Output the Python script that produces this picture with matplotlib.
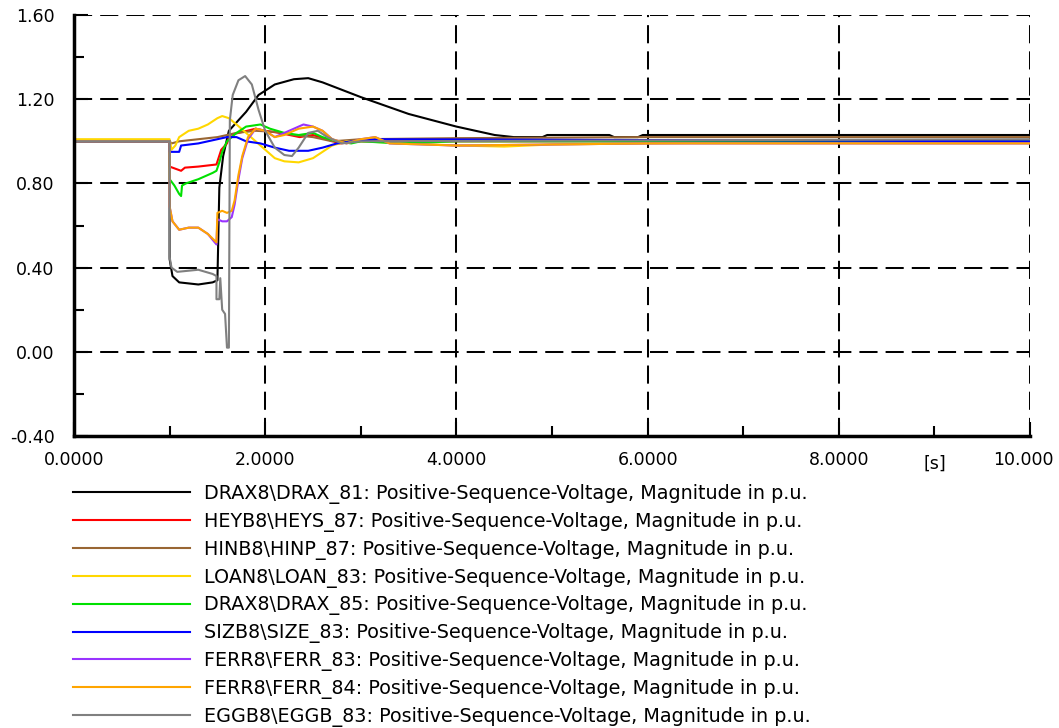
import numpy as np
import matplotlib
matplotlib.use("Agg")
import matplotlib.pyplot as plt
from matplotlib.transforms import ScaledTranslation

plt.rcParams['font.family'] = ['DejaVu Sans']

# time [s] / voltage [p.u.], one pair of lists per bus
t_drax81 = [0, 1.0, 1.0, 1.03, 1.1, 1.3, 1.45, 1.5, 1.52, 1.56, 1.62, 1.8, 1.93, 2.1, 2.3, 2.45,
            2.6, 3.0, 3.5, 4.0, 4.4, 4.6, 4.9, 4.95, 5.6, 5.65, 5.9, 5.95, 10]
v_drax81 = [1.0, 1.0, 0.44, 0.36, 0.33, 0.32, 0.33, 0.34, 0.78, 0.93, 1.05, 1.14, 1.22, 1.27, 1.295, 1.30,
            1.28, 1.21, 1.13, 1.07, 1.03, 1.02, 1.02, 1.03, 1.03, 1.02, 1.02, 1.03, 1.03]

t_heys87 = [0, 1.0, 1.0, 1.12, 1.16, 1.3, 1.49, 1.54, 1.6, 1.63, 1.9, 2.0, 2.15, 2.36, 2.5, 2.64, 2.78, 3.0, 4.0, 10]
v_heys87 = [1.0, 1.0, 0.88, 0.86, 0.875, 0.88, 0.89, 0.96, 0.99, 1.03, 1.06, 1.05, 1.04, 1.02, 1.03, 1.01, 0.99, 1.0, 1.0, 1.0]

t_hinp87 = [0, 1.0, 1.02, 1.1, 1.3, 1.5, 1.7, 1.9, 2.1, 2.3, 2.5, 2.7, 3.0, 4.0, 6.0, 10]
v_hinp87 = [1.0, 1.0, 0.99, 1.0, 1.01, 1.02, 1.04, 1.05, 1.045, 1.03, 1.02, 1.0, 1.01, 1.015, 1.02, 1.02]

t_loan83 = [0, 1.0, 1.02, 1.06, 1.1, 1.2, 1.3, 1.4, 1.5, 1.55, 1.62, 1.7, 1.8, 1.9, 2.0, 2.1, 2.2, 2.35,
            2.5, 2.6, 2.7, 2.85, 3.0, 3.5, 4.0, 4.5, 5.0, 6.0, 8.0, 10]
v_loan83 = [1.01, 1.01, 0.96, 0.98, 1.02, 1.05, 1.06, 1.08, 1.11, 1.12, 1.11, 1.08, 1.04, 1.0, 0.96, 0.92, 0.905, 0.90,
            0.92, 0.95, 0.98, 1.0, 1.0, 0.99, 0.98, 0.975, 0.985, 0.99, 1.0, 1.0]

t_drax85 = [0, 1.0, 1.0, 1.05, 1.1, 1.12, 1.13, 1.17, 1.3, 1.45, 1.49, 1.52, 1.55, 1.6, 1.7, 1.8, 1.95,
            2.05, 2.2, 2.35, 2.5, 2.6, 2.75, 2.9, 3.0, 3.4, 4.0, 10]
v_drax85 = [1.0, 1.0, 0.82, 0.79, 0.75, 0.74, 0.79, 0.80, 0.82, 0.85, 0.86, 0.90, 0.95, 1.0, 1.04, 1.07, 1.08,
            1.06, 1.04, 1.03, 1.04, 1.02, 1.0, 0.99, 1.0, 0.99, 1.0, 1.0]

t_size83 = [0, 1.0, 1.0, 1.1, 1.12, 1.3, 1.5, 1.6, 1.7, 1.8, 1.95, 2.1, 2.25, 2.45, 2.6, 2.75, 2.9, 3.2, 10]
v_size83 = [1.0, 1.0, 0.95, 0.95, 0.98, 0.99, 1.01, 1.02, 1.02, 1.0, 0.99, 0.97, 0.955, 0.955, 0.97, 0.99, 1.0, 1.01, 1.0]

t_ferr83 = [0, 1.0, 1.0, 1.03, 1.1, 1.2, 1.3, 1.4, 1.49, 1.5, 1.55, 1.6, 1.65, 1.68, 1.72, 1.76, 1.82, 1.9,
            2.0, 2.1, 2.2, 2.4, 2.5, 2.6, 2.7, 2.85, 3.0, 3.15, 3.3, 4.0, 6.0, 10]
v_ferr83 = [1.0, 1.0, 0.69, 0.62, 0.58, 0.59, 0.59, 0.56, 0.51, 0.63, 0.62, 0.62, 0.64, 0.70, 0.82, 0.92, 1.01, 1.06,
            1.05, 1.02, 1.04, 1.08, 1.07, 1.05, 1.01, 0.99, 1.01, 1.02, 0.99, 0.98, 0.99, 0.99]

t_ferr84 = [0, 1.0, 1.0, 1.03, 1.1, 1.2, 1.3, 1.4, 1.49, 1.5, 1.55, 1.6, 1.65, 1.68, 1.72, 1.76, 1.82, 1.9,
            2.0, 2.1, 2.2, 2.35, 2.5, 2.6, 2.7, 2.85, 3.0, 3.15, 3.3, 4.0, 6.0, 10]
v_ferr84 = [1.0, 1.0, 0.69, 0.62, 0.58, 0.59, 0.59, 0.56, 0.52, 0.66, 0.67, 0.66, 0.67, 0.72, 0.84, 0.93, 1.02, 1.06,
            1.05, 1.02, 1.03, 1.06, 1.07, 1.05, 1.01, 0.99, 1.01, 1.02, 0.99, 0.98, 0.99, 0.99]

t_eggb83 = [0, 1.0, 1.0, 1.02, 1.08, 1.3, 1.45, 1.49, 1.49, 1.52, 1.53, 1.55, 1.58, 1.6, 1.62, 1.63, 1.66,
            1.72, 1.79, 1.86, 1.93, 2.0, 2.1, 2.2, 2.28, 2.35, 2.45, 2.55, 2.65, 2.8, 3.0, 10]
v_eggb83 = [1.0, 1.0, 0.45, 0.40, 0.38, 0.39, 0.37, 0.36, 0.25, 0.25, 0.35, 0.20, 0.18, 0.02, 0.02, 1.10, 1.22,
            1.29, 1.31, 1.27, 1.15, 1.05, 0.97, 0.935, 0.93, 0.97, 1.04, 1.05, 1.02, 0.99, 1.0, 1.01]

names = ["DRAX8\\DRAX_81", "HEYB8\\HEYS_87", "HINB8\\HINP_87", "LOAN8\\LOAN_83", "DRAX8\\DRAX_85",
         "SIZB8\\SIZE_83", "FERR8\\FERR_83", "FERR8\\FERR_84", "EGGB8\\EGGB_83"]
times = [t_drax81, t_heys87, t_hinp87, t_loan83, t_drax85, t_size83, t_ferr83, t_ferr84, t_eggb83]
volts = [v_drax81, v_heys87, v_hinp87, v_loan83, v_drax85, v_size83, v_ferr83, v_ferr84, v_eggb83]
colors = ["#000000", "#ff0000", "#996633", "#ffd700", "#00e000", "#0000ff", "#9933ff", "#ffa500", "#808080"]
xtick_text = ["0.0000", "2.0000", "4.0000", "6.0000", "8.0000", ""]

fig = plt.figure(figsize=(10.59, 7.28), dpi=100)
ax = fig.add_axes([0.0699, 0.401, 0.9027, 0.5784])

lines = []
for t, v, c, n in zip(times, volts, colors, names):
    ln, = ax.plot(t, v, color=c, lw=1.5, label=n + ": Positive-Sequence-Voltage, Magnitude in p.u.")
    lines.append(ln)

ax.set_xlim(0, 10)
ax.set_ylim(-0.4, 1.6)
ax.set_xticks(np.arange(0, 10.1, 2))
ax.set_xticklabels(xtick_text)
ax.set_xticks(np.arange(1, 10, 2), minor=True)
ax.set_yticks(np.arange(-0.4, 1.61, 0.4))
ax.set_yticklabels(["-0.40", "0.00", "0.40", "0.80", "1.20", "1.60"])
ax.set_yticks(np.arange(-0.2, 1.5, 0.4), minor=True)
ax.tick_params(which='both', direction='in', labelsize=12.5, width=1.5)
ax.tick_params(which='major', length=10)
ax.tick_params(which='minor', length=7)
ax.tick_params(axis='x', pad=11)
ax.tick_params(axis='y', pad=14)
ax.grid(True, which='major', color='black', linestyle=(0, (9, 4)), lw=1.45)
for s in ['top', 'right']:
    ax.spines[s].set_visible(False)
for s in ['left', 'bottom']:
    ax.spines[s].set_linewidth(2.5)

xt = ax.get_xaxis_transform()
ax.text(9.0, -0.045, "[s]", transform=xt, ha='center', va='top', fontsize=12.5)
# last x label pulled a little left so it stays on the figure
ax.text(10.0, -0.0363, "10.000", ha='center', va='top', fontsize=12.5,
        transform=xt + ScaledTranslation(-0.07, 0, fig.dpi_scale_trans))

fig.legend(handles=lines, loc='upper left', bbox_to_anchor=(0.069, 0.335), frameon=False,
           fontsize=13.75, handlelength=6.1, handletextpad=0.75, labelspacing=0.41,
           borderpad=0, borderaxespad=0)

fig.savefig("out.png", dpi=100)
